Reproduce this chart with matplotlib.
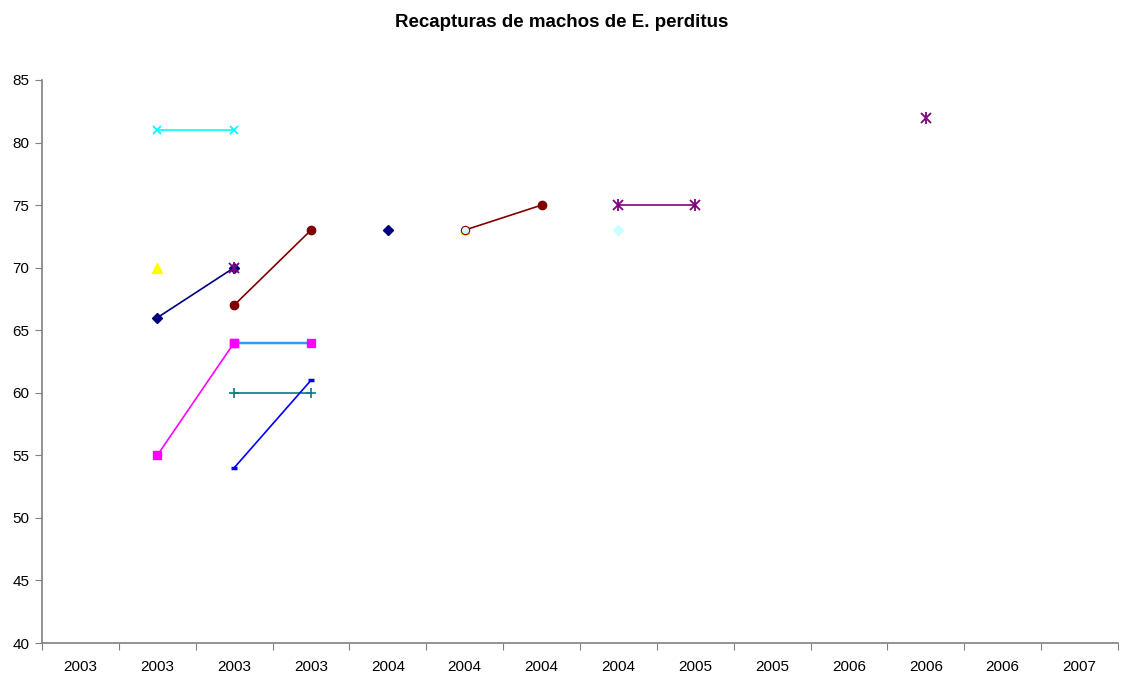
import matplotlib
matplotlib.use("Agg")
import matplotlib.pyplot as plt
import numpy as np

plt.rcParams["font.family"] = ["Liberation Sans", "DejaVu Sans"]

# category labels of the x axis (one per capture date)
years = ["2003", "2003", "2003", "2003", "2004", "2004", "2004",
         "2004", "2005", "2005", "2006", "2006", "2006", "2007"]

N = None
navy_a = [N, 66, 70, N, N, N, N, N, N, N, N, N, N, N]
navy_b = [N, N, N, N, 73, N, N, N, N, N, N, N, N, N]
magenta = [N, 55, 64, N, N, N, N, N, N, N, N, N, N, N]
yellow_a = [N, 70, N, N, N, N, N, N, N, N, N, N, N, N]
yellow_b = [N, N, N, N, N, 73, N, N, N, N, N, N, N, N]
cyan = [N, 81, 81, N, N, N, N, N, N, N, N, N, N, N]
purple_a = [N, N, 70, N, N, N, N, N, N, N, N, N, N, N]
purple_b = [N, N, N, N, N, N, N, 75, 75, N, N, N, N, N]
purple_c = [N, N, N, N, N, N, N, N, N, N, N, 82, N, N]
darkred_a = [N, N, 67, 73, N, N, N, N, N, N, N, N, N, N]
darkred_b = [N, N, N, N, N, 73, 75, N, N, N, N, N, N, N]
teal = [N, N, 60, 60, N, N, N, N, N, N, N, N, N, N]
blue = [N, N, 54, 61, N, N, N, N, N, N, N, N, N, N]
skyblue = [N, N, 64, 64, N, N, N, N, N, N, N, N, N, N]
lightcyan = [N, N, N, N, N, N, N, 73, N, N, N, N, N, N]


def arr(values):
    return np.array([np.nan if v is None else v for v in values], dtype=float)


def star_series(ax, x, values, color):
    # Excel-style star: an x with a vertical bar through it
    y = arr(values)
    ax.plot(x, y, color=color, lw=1.2, marker="x", ms=7, mew=1.3)
    ax.plot(x, y, color=color, ls="none", marker="|", ms=8, mew=1.3)


fig = plt.figure(figsize=(11.23, 6.75), dpi=100)
ax = fig.add_axes([0.0374, 0.0474, 0.9581, 0.8341])
x = np.arange(len(years))

lw = 1.2
ax.plot(x, arr(cyan), color="#00FFFF", lw=lw, marker="x", ms=6, mew=1.3)
ax.plot(x, arr(navy_a), color="#000080", lw=lw, marker="D", ms=5)
ax.plot(x, arr(navy_b), color="#000080", lw=lw, marker="D", ms=5)
ax.plot(x, arr(magenta), color="#FF00FF", lw=lw, marker="s", ms=6)
ax.plot(x, arr(yellow_a), color="#FFFF00", marker="^", ms=7, ls="none")
ax.plot(x, arr(yellow_b), color="#FFFF00", marker="^", ms=6, ls="none")
star_series(ax, x, purple_a, "#800080")
star_series(ax, x, purple_b, "#800080")
star_series(ax, x, purple_c, "#800080")
ax.plot(x, arr(darkred_a), color="#800000", lw=lw, marker="o", ms=6)

# second dark red pair: open light-cyan circle on the first point
dr_b = arr(darkred_b)
ax.plot(x, dr_b, color="#800000", lw=lw)
ax.plot(x[6:7], dr_b[6:7], color="#800000", marker="o", ms=6, ls="none")
ax.plot(x[5:6], dr_b[5:6], marker="o", ms=6, ls="none",
        mfc="#CCFFFF", mec="#800000", mew=0.8)

ax.plot(x, arr(teal), color="#008080", lw=lw, marker="+", ms=7, mew=1.2)
ax.plot(x, arr(blue), color="#0000FF", lw=lw, marker="_", ms=5, mew=2.5)
ax.plot(x, arr(skyblue), color="#3399FF", lw=lw * 1.5, marker="s", ms=6,
        mfc="#FF00FF", mec="#FF00FF")
ax.plot(x, arr(lightcyan), color="#CCFFFF", marker="D", ms=5, ls="none")

ax.set_xlim(-0.5, len(years) - 0.5)
ax.set_ylim(40, 85)
ax.set_yticks(np.arange(40, 86, 5))
ax.set_xticks(np.arange(-0.5, len(years), 1.0))
ax.set_xticklabels([])
ax.set_xticks(x, minor=True)
ax.set_xticklabels(years, minor=True)
ax.tick_params(axis="x", which="minor", length=0, pad=12, labelsize=11)
ax.tick_params(axis="x", which="major", length=5, direction="out", color="#808080")
ax.tick_params(axis="y", length=5, direction="out", color="#808080", labelsize=11, pad=4)

for side in ("top", "right"):
    ax.spines[side].set_visible(False)
for side in ("left", "bottom"):
    ax.spines[side].set_color("#808080")
    ax.spines[side].set_linewidth(1.2)

fig.text(0.5, 0.966, "Recapturas de machos de E. perditus", ha="center", va="center",
         fontsize=13.5, fontweight="bold")

fig.savefig("out.png")
